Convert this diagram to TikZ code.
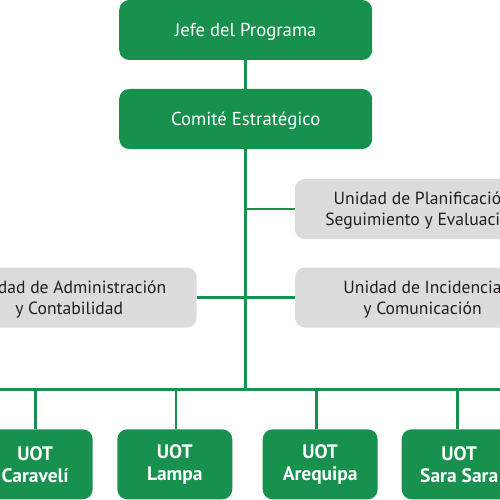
\documentclass[tikz,border=0pt]{standalone}
\usepackage{fontspec}
\setmainfont{PT Sans}
\definecolor{ogreen}{HTML}{18914F}
\definecolor{ogray}{HTML}{DCDCDC}
\definecolor{otext}{HTML}{231F20}
\begin{document}
\begin{tikzpicture}[x=1pt,y=-1pt,
  gbox/.style={fill=ogreen, rounded corners=10pt, text=white, minimum width=253pt, minimum height=60pt, inner sep=0pt, text height=13pt, text depth=0pt, font=\fontsize{18.7}{22}\selectfont},
  ubox/.style={fill=ogreen, rounded corners=10pt, text=white, minimum width=115pt, minimum height=70pt, inner sep=0pt, align=center, font=\fontsize{19.5}{22}\selectfont\bfseries},
  ybox/.style={fill=ogray, rounded corners=10pt, minimum width=255pt, minimum height=60pt, inner sep=0pt, align=center, text depth=0pt, text=otext, font=\fontsize{17.6}{20.7}\selectfont},
  link/.style={draw=ogreen, line width=2.6pt}]
\useasboundingbox (0,0) rectangle (500,500);
\clip (0,0) rectangle (500,500);
\coordinate (bus) at (245.7,389.3);
\coordinate (busL) at (-5,389.3);
\coordinate (busR) at (505,389.3);
\coordinate (j1) at (245.7,209);
\node[gbox] (jefe) at (245.7,30) {Jefe del Programa};
\node[gbox] (comite) at (245.7,119) {Comité Estratégico};
\node[ybox] (plan) at (422.3,209) {Unidad de Planificación\\Seguimiento y Evaluación};
\node[ybox] (admin) at (69.2,297.5) {Unidad de Administración\\y Contabilidad};
\node[ybox] (inci) at (422.5,297.5) {Unidad de Incidencia\\y Comunicación};
\node[ubox] (u1) at (35.2,464.3) {UOT\\Caravelí};
\node[ubox] (u2) at (174.8,464.3) {UOT\\Lampa};
\node[ubox] (u3) at (320.2,464.3) {UOT\\Arequipa};
\node[ubox] (u4) at (459.2,464.3) {UOT\\Sara Sara};
\draw[link] (jefe.south) -- (comite.north);
\draw[link] (comite.south) -- (bus);
\draw[link] (j1) -- (plan.west);
\draw[link] (admin.east) -- (inci.west);
\draw[link] (busL) -- (busR);
\draw[link] (u1.north) -- (u1.north |- bus);
\draw[link] ([xshift=1pt]u2.north) -- ([xshift=1pt]u2.north |- bus);
\draw[link] ([xshift=-4pt]u3.north) -- ([xshift=-4pt]u3.north |- bus);
\draw[link] ([xshift=-1.5pt]u4.north) -- ([xshift=-1.5pt]u4.north |- bus);
\end{tikzpicture}
\end{document}
